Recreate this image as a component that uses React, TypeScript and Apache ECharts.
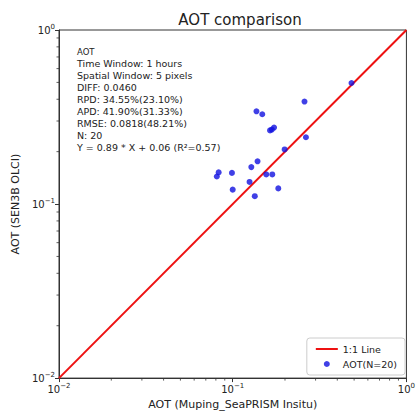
import React, { useEffect, useRef } from "react";
import * as echarts from "echarts";

// In-situ (x) vs satellite (y) AOT matchups
const insituAot = [
  0.483, 0.259, 0.137, 0.148, 0.173, 0.164, 0.168, 0.264, 0.199, 0.139,
  0.128, 0.083, 0.081, 0.099, 0.156, 0.169, 0.125, 0.1, 0.183, 0.134,
];
const olciAot = [
  0.496, 0.388, 0.341, 0.328, 0.275, 0.265, 0.268, 0.242, 0.206, 0.176,
  0.163, 0.152, 0.144, 0.151, 0.148, 0.148, 0.134, 0.121, 0.123, 0.111,
];
const oneToOne = [0.01, 1];
const minorMultipliers = [2, 3, 4, 5, 6, 7, 8, 9];
const decades = [0.01, 0.1];

const statLines = [
  "Time Window: 1 hours",
  "Spatial Window: 5 pixels",
  "DIFF: 0.0460",
  "RPD: 34.55%(23.10%)",
  "APD: 41.90%(31.33%)",
  "RMSE: 0.0818(48.21%)",
  "N: 20",
  "Y = 0.89 * X + 0.06 (R\u00b2=0.57)",
];

const FONT = "DejaVu Sans";
const AXIS_COLOR = "#333";

const powLabel = (v: number) => {
  const e = Math.round(Math.log10(v));
  return `{b|10}{s|${e === 0 ? "0" : "\u2212" + Math.abs(e)}}`;
};

const tickRich = {
  b: { fontFamily: FONT, fontSize: 10, color: "#222" },
  s: { fontFamily: FONT, fontSize: 7, color: "#222", padding: [0, 0, 7, 0] },
};

const statsText = {
  type: "text",
  left: 77,
  top: 47,
  style: {
    text: ["{h|AOT}", ...statLines.map((l) => `{t|${l}}`)].join("\n"),
    rich: {
      h: { fontFamily: FONT, fontSize: 8.5, lineHeight: 12, fill: "#222" },
      t: { fontFamily: FONT, fontSize: 9.5, lineHeight: 12, fill: "#222" },
    },
  },
};

export default function App() {
  const ref = useRef<HTMLDivElement>(null);
  useEffect(() => {
    if (!ref.current) return;
    const chart = echarts.init(ref.current, undefined, { renderer: "svg" });
    const points = insituAot.map((x, i) => [x, olciAot[i]]);
    chart.setOption({
      animation: false,
      backgroundColor: "#fff",
      textStyle: { fontFamily: FONT },
      title: {
        text: "AOT comparison",
        left: 235,
        textAlign: "center",
        top: 7,
        textStyle: { fontFamily: FONT, fontSize: 15, fontWeight: "normal", color: "#222" },
      },
      grid: {
        left: 59,
        top: 30,
        width: 352,
        height: 350,
        show: true,
        borderColor: AXIS_COLOR,
        borderWidth: 1,
        backgroundColor: "transparent",
      },
      legend: {
        orient: "vertical",
        right: 13,
        bottom: 40,
        padding: [6, 8, 6, 8],
        itemGap: 5,
        itemWidth: 22,
        itemHeight: 6,
        borderColor: "#ccc",
        borderWidth: 1,
        borderRadius: 3,
        backgroundColor: "#fff",
        textStyle: { fontFamily: FONT, fontSize: 9.5, color: "#222" },
        data: [
          { name: "1:1 Line", itemStyle: { opacity: 0 }, lineStyle: { width: 2 } },
          { name: "AOT(N=20)" },
        ],
      },
      xAxis: {
        type: "log",
        logBase: 10,
        min: 0.01,
        max: 1,
        name: "AOT (Muping_SeaPRISM Insitu)",
        nameLocation: "middle",
        nameGap: 17,
        nameTextStyle: { fontFamily: FONT, fontSize: 11, color: "#222" },
        axisLine: { show: true, lineStyle: { color: AXIS_COLOR } },
        axisTick: { show: true, length: 4, lineStyle: { color: AXIS_COLOR } },
        splitLine: { show: false },
        axisLabel: { margin: 4, formatter: powLabel, rich: tickRich },
      },
      yAxis: {
        type: "log",
        logBase: 10,
        min: 0.01,
        max: 1,
        name: "AOT (SEN3B OLCI)",
        nameLocation: "middle",
        nameGap: 27,
        nameTextStyle: { fontFamily: FONT, fontSize: 11, color: "#222" },
        axisLine: { show: true, lineStyle: { color: AXIS_COLOR } },
        axisTick: { show: true, length: 4, lineStyle: { color: AXIS_COLOR } },
        splitLine: { show: false },
        axisLabel: { margin: 4, formatter: powLabel, rich: tickRich },
      },
      series: [
        {
          name: "1:1 Line",
          type: "line",
          data: oneToOne.map((v) => [v, v]),
          symbol: "none",
          lineStyle: { color: "#ee1111", width: 2 },
          itemStyle: { color: "#ee1111" },
          z: 3,
        },
        {
          name: "AOT(N=20)",
          type: "scatter",
          data: points,
          symbol: "circle",
          symbolSize: 6,
          itemStyle: { color: "#1010e0" },
          z: 4,
        },
      ],
      graphic: [statsText],
    });

    // Minor log ticks at 2..9 x 10^k, placed through the axis scales
    const minor: any[] = [];
    const y0 = chart.convertToPixel({ yAxisIndex: 0 }, 0.01) as number;
    const x0 = chart.convertToPixel({ xAxisIndex: 0 }, 0.01) as number;
    decades.forEach((d) =>
      minorMultipliers.forEach((m) => {
        const v = d * m;
        const px = chart.convertToPixel({ xAxisIndex: 0 }, v) as number;
        const py = chart.convertToPixel({ yAxisIndex: 0 }, v) as number;
        minor.push({
          type: "line",
          shape: { x1: px, y1: y0, x2: px, y2: y0 + 2.5 },
          style: { stroke: AXIS_COLOR, lineWidth: 0.8 },
        });
        minor.push({
          type: "line",
          shape: { x1: x0, y1: py, x2: x0 - 2.5, y2: py },
          style: { stroke: AXIS_COLOR, lineWidth: 0.8 },
        });
      })
    );
    chart.setOption({ graphic: [statsText, ...minor] });

    return () => chart.dispose();
  }, []);
  return (
    <div
      ref={ref}
      style={{ position: "fixed", left: 0, top: 0, width: 418, height: 415 }}
    />
  );
}
